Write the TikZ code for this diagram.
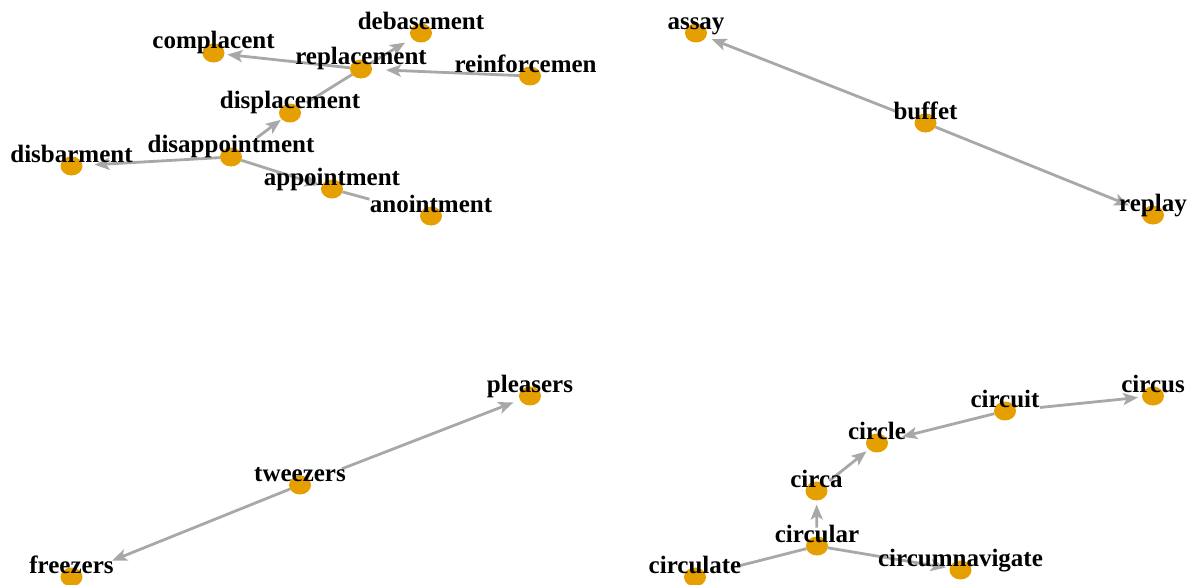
\documentclass[tikz,border=0pt]{standalone}
\usepackage{fontspec}
\setmainfont{Liberation Serif}
\usetikzlibrary{arrows.meta,shapes.geometric}

% drawing order: links, dots, words
\pgfdeclarelayer{links}
\pgfdeclarelayer{words}
\pgfsetlayers{links,main,words}

\definecolor{dotorange}{RGB}{230,159,0}
\definecolor{linkgray}{RGB}{168,168,168}

\tikzset{
  vertex/.style={ellipse, fill=dotorange, draw=none, minimum width=22pt,
                 minimum height=19pt, inner sep=0pt, outer sep=0pt},
  wordlabel/.style={font=\bfseries\fontsize{25}{25}\selectfont, inner sep=0pt,
                    outer sep=0pt, anchor=base, text=black},
  link/.style={draw=linkgray, line width=2.8pt},
  dirlink/.style={link, -{Stealth[length=15pt,width=12pt,inset=3.5pt]}},
}

% \word{name}{x}{y}{text}{extra options}
\newcommand\word[5]{%
  \begin{pgfonlayer}{words}\node[wordlabel,#5] (l#1) at (#2,#3) {#4};\end{pgfonlayer}}

\begin{document}
\begin{tikzpicture}[x=1pt,y=-1pt]
\useasboundingbox (0,0) rectangle (1188,584);

% ---------- dots ----------
\node[vertex] (complacent)     at (213.5,53)  {};
\node[vertex] (debasement)     at (421,33)    {};
\node[vertex] (replacement)    at (361,69)    {};
\node[vertex] (reinforcement)  at (530,76)    {};
\node[vertex] (displacement)   at (290,113)   {};
\node[vertex] (disappointment) at (231,157)   {};
\node[vertex] (disbarment)     at (71.5,166)  {};
\node[vertex] (appointment)    at (332,189)   {};
\node[vertex] (anointment)     at (431,216)   {};

\node[vertex] (assay)  at (696,33)    {};
\node[vertex] (buffet) at (925.5,123) {};
\node[vertex] (replay) at (1153,215)  {};

\node[vertex] (pleasers) at (530,396)  {};
\node[vertex] (tweezers) at (300,485)  {};
\node[vertex] (freezers) at (71.5,577) {};

\node[vertex] (circus)         at (1153,396)  {};
\node[vertex] (circuit)        at (1005,411)  {};
\node[vertex] (circle)         at (877,443)   {};
\node[vertex] (circa)          at (816.5,491) {};
\node[vertex] (circular)       at (817,546)   {};
\node[vertex] (circulate)      at (695,577)   {};
\node[vertex] (circumnavigate) at (960.5,570) {};

% ---------- words ----------
\word{complacent}{213.5}{48}{complacent}{}
\word{debasement}{421}{29}{debasement}{}
\word{replacement}{361}{64}{replacement}{}
\word{reinforcement}{454.5}{72}{reinforcemen}{anchor=base west}
\word{displacement}{290}{108}{displacement}{}
\word{disappointment}{231}{152}{disappointment}{}
\word{disbarment}{71.5}{162}{disbarment}{}
\word{appointment}{332}{185}{appointment}{}
\word{anointment}{431}{212}{anointment}{}

\word{assay}{696}{29}{assay}{}
\word{buffet}{925.5}{119}{buffet}{}
\word{replay}{1153}{211}{replay}{}

\word{pleasers}{530}{392}{pleasers}{}
\word{tweezers}{300}{481}{tweezers}{}
\word{freezers}{71.5}{573}{freezers}{}

\word{circus}{1153}{392}{circus}{}
\word{circuit}{1005}{407}{circuit}{}
\word{circle}{877}{439}{circle}{}
\word{circa}{816.5}{487}{circa}{}
\word{circular}{817}{542}{circular}{}
\word{circulate}{695}{573}{circulate}{}
\word{circumnavigate}{960.5}{566}{circumnavigate}{}

% ---------- links ----------
\begin{pgfonlayer}{links}
\draw[dirlink, shorten >=3pt]                    (replacement) -- (complacent);
\draw[dirlink, shorten >=8pt]                    (replacement) -- (debasement);
\draw[dirlink, shorten >=14pt]                   (reinforcement) -- (replacement);
\draw[link, shorten >=9pt]                       (replacement) -- (displacement);
\draw[dirlink, shorten <=22pt, shorten >=1pt]    (disappointment) -- (displacement);
\draw[dirlink, shorten >=12pt]                   (disappointment) -- (disbarment);
\draw[dirlink, shorten >=2pt]                    (disappointment) -- (appointment);
\draw[link, shorten >=53pt]                      (appointment) -- (anointment);

\draw[dirlink, shorten <=21pt, shorten >=6pt]    (buffet) -- (assay);
\draw[dirlink, shorten >=15pt]                   (buffet) -- (replay);

\draw[dirlink, shorten <=34pt, shorten >=7pt]    (tweezers) -- (pleasers);
\draw[dirlink, shorten >=33pt]                   (tweezers) -- (freezers);

\draw[dirlink, shorten <=24pt, shorten >=4pt]    (circuit) -- (circus);
\draw[dirlink, shorten >=15pt]                   (circuit) -- (circle);
\draw[dirlink, shorten <=6pt, shorten >=3pt]     (circa) -- (circle);
\draw[dirlink, shorten <=9pt, shorten >=4pt]     (circular) -- (circa);
\draw[dirlink, shorten >=4pt]                    (circular) -- (circumnavigate);
\draw[link, shorten >=36pt]                      (circular) -- (circulate);
\end{pgfonlayer}
\end{tikzpicture}
\end{document}
